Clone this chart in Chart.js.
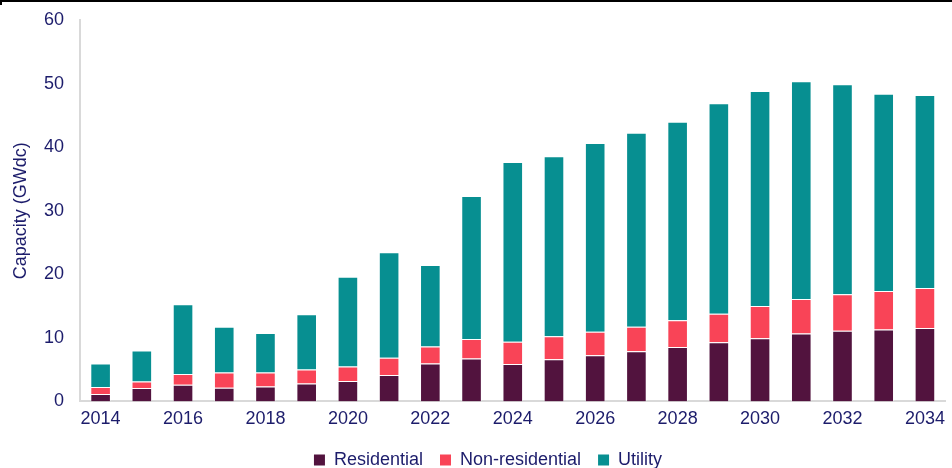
<!DOCTYPE html>
<html>
<head>
<meta charset="utf-8">
<script src="https://cdn.jsdelivr.net/npm/chart.js@4/dist/chart.umd.min.js"></script>
<style>
  html, body { margin: 0; padding: 0; background: #ffffff; }
  #wrap { position: relative; width: 952px; height: 468px; }
  #topline { position: absolute; left: 0; top: 0; width: 952px; height: 2px; background: #000; }
  #tick { position: absolute; left: 0; top: 2px; width: 2px; height: 3px; background: #000; }
  canvas { position: absolute; left: 0; top: 0; }
</style>
</head>
<body>
<div id="wrap">
  <canvas id="c" width="952" height="468"></canvas>
  <div id="topline"></div>
  <div id="tick"></div>
</div>
<script>
const years = ['2014','2015','2016','2017','2018','2019','2020','2021','2022','2023','2024','2025','2026','2027','2028','2029','2030','2031','2032','2033','2034'];
const residential = [1.15, 2.1, 2.6, 2.15, 2.35, 2.8, 3.2, 4.15, 5.95, 6.75, 5.9, 6.65, 7.25, 7.9, 8.55, 9.3, 9.95, 10.7, 11.1, 11.3, 11.55];
const nonResidential = [1.1, 1.05, 1.7, 2.4, 2.2, 2.2, 2.3, 2.7, 2.7, 3.05, 3.5, 3.6, 3.7, 3.85, 4.2, 4.5, 5.05, 5.4, 5.75, 6.05, 6.3];
const utility = [3.7, 4.85, 11.0, 7.2, 6.2, 8.7, 14.1, 16.6, 12.8, 22.5, 28.25, 28.3, 29.7, 30.5, 31.25, 33.1, 33.85, 34.25, 33.05, 31.05, 30.35];
const seriesNames = ['Residential', 'Non-residential', 'Utility'];
const yTicks = [0, 10, 20, 30, 40, 50, 60];

const textColor = '#1c1c6b';
const fontFamily = "'Liberation Sans', Arial, sans-serif";

const shiftLegend = {
  id: 'shiftLegend',
  afterLayout(chart) {
    const lg = chart.legend;
    if (!lg) return;
    lg.left += 13; lg.right += 13;
    lg.top -= 3; lg.bottom -= 3;
  }
};

new Chart(document.getElementById('c'), {
  type: 'bar',
  data: {
    labels: years,
    datasets: [
      { label: seriesNames[0], data: residential, backgroundColor: '#52133e' },
      { label: seriesNames[1], data: nonResidential, backgroundColor: '#f94457' },
      { label: seriesNames[2], data: utility, backgroundColor: '#078f91' }
    ].map(d => Object.assign(d, { borderColor: 'rgba(255,255,255,0.45)', borderWidth: 1, barPercentage: 0.5, categoryPercentage: 1.0 }))
  },
  options: {
    responsive: false,
    animation: false,
    devicePixelRatio: 1,
    layout: { padding: { top: 20, right: 2, bottom: -14, left: 0 } },
    plugins: {
      tooltip: { enabled: false },
      legend: {
        position: 'bottom',
        labels: {
          color: textColor,
          font: { family: fontFamily, size: 18 },
          boxWidth: 11,
          boxHeight: 11,
          padding: 17,
          generateLabels(chart) {
            const items = Chart.defaults.plugins.legend.labels.generateLabels(chart);
            items.forEach(it => { it.lineWidth = 0; it.strokeStyle = it.fillStyle; });
            return items;
          }
        }
      }
    },
    scales: {
      x: {
        stacked: true,
        grid: { display: false, drawTicks: false },
        border: { display: true, color: '#d9d9d9', width: 2 },
        ticks: {
          color: textColor,
          font: { family: fontFamily, size: 18 },
          padding: 7,
          autoSkip: false,
          maxRotation: 0,
          callback: function (v, i) { return i % 2 === 0 ? years[i] : ''; }
        }
      },
      y: {
        stacked: true,
        min: 0,
        max: 60,
        afterBuildTicks(scale) { scale.ticks = yTicks.map(v => ({ value: v })); },
        afterFit(scale) { scale.width = 80; scale.paddingTop = 11; scale.paddingBottom = 11; },
        grid: { display: false, drawTicks: false },
        border: { display: true, color: '#d9d9d9', width: 2 },
        ticks: {
          color: textColor,
          font: { family: fontFamily, size: 18 },
          padding: 16
        },
        title: {
          display: true,
          text: 'Capacity (GWdc)',
          color: textColor,
          font: { family: fontFamily, size: 18 },
          padding: { top: 10, bottom: 0 }
        }
      }
    }
  },
  plugins: [shiftLegend]
});
</script>
</body>
</html>
